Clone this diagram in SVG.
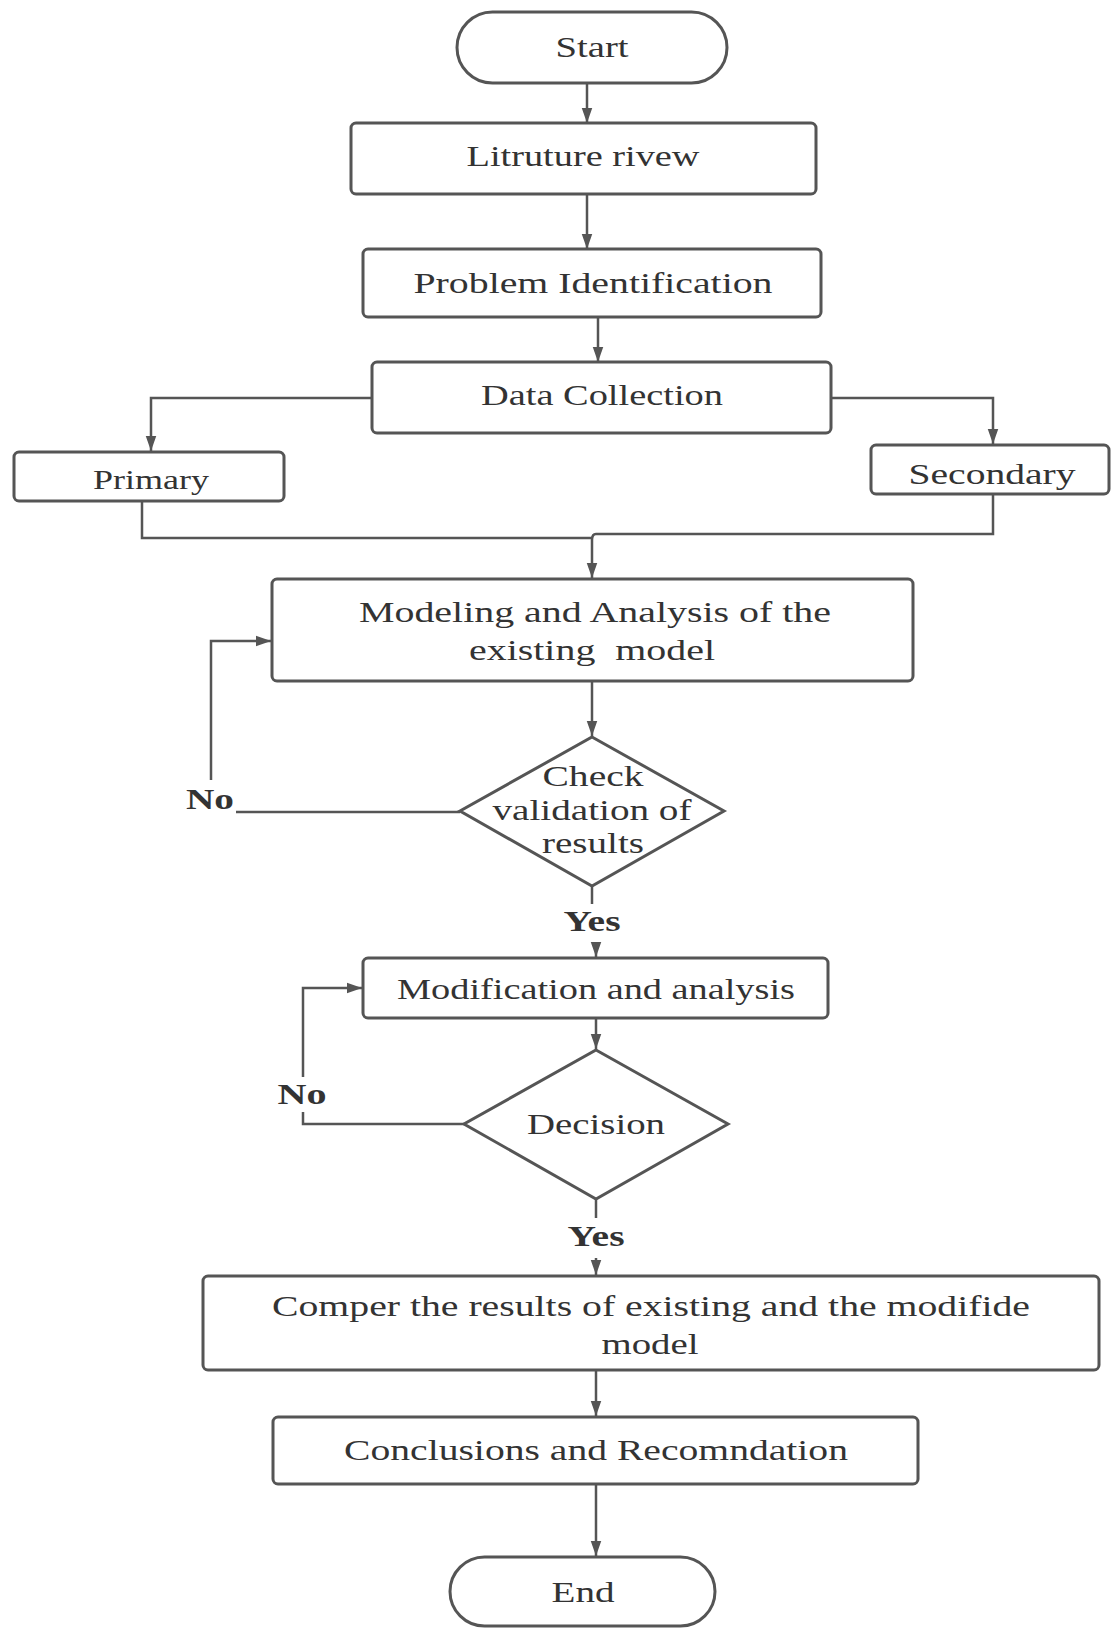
<svg xmlns="http://www.w3.org/2000/svg" width="1111" height="1629" viewBox="0 0 1111 1629">
<defs>
<style>
.n{fill:#fff;stroke:#555;stroke-width:3}
.t{font-family:"Liberation Serif","Times New Roman",serif;font-size:30px;fill:#333;text-anchor:middle;dominant-baseline:central}
.b{font-weight:bold}
.c{fill:none;stroke:#555;stroke-width:2.5}
</style>
<marker id="ah" viewBox="0 0 10 10" refX="10" refY="5" markerWidth="6" markerHeight="6" markerUnits="strokeWidth" orient="auto"><path d="M0,1.5 L10,5 L0,8.5 Z" fill="#555"/></marker>
</defs>
<rect width="1111" height="1629" fill="#fff"/>
<g id="connectors">
<path class="c" d="M587,83 V123" marker-end="url(#ah)"/>
<path class="c" d="M587,194 V249" marker-end="url(#ah)"/>
<path class="c" d="M598,317 V362" marker-end="url(#ah)"/>
<path class="c" d="M372,398 H151 V451" marker-end="url(#ah)"/>
<path class="c" d="M831,398 H993 V444" marker-end="url(#ah)"/>
<path class="c" d="M142,501 V538 H592"/>
<path class="c" d="M993,494 V534 H596 Q592,534 592,540 V578" marker-end="url(#ah)"/>
<path class="c" d="M592,681 V736" marker-end="url(#ah)"/>
<path class="c" d="M460,812 H236"/>
<path class="c" d="M211,780 V641 H271" marker-end="url(#ah)"/>
<path class="c" d="M592,886 V904"/>
<path class="c" d="M596,942 V957" marker-end="url(#ah)"/>
<path class="c" d="M596,1018 V1049" marker-end="url(#ah)"/>
<path class="c" d="M464,1124 H303 V1112"/>
<path class="c" d="M303,1077 V988 H362" marker-end="url(#ah)"/>
<path class="c" d="M596,1199 V1218"/>
<path class="c" d="M596,1258 V1275" marker-end="url(#ah)"/>
<path class="c" d="M596,1370 V1416" marker-end="url(#ah)"/>
<path class="c" d="M596,1484 V1556" marker-end="url(#ah)"/>
<text class="t b" x="210" y="798" textLength="48" lengthAdjust="spacingAndGlyphs">No</text>
<text class="t b" x="592" y="920" textLength="57" lengthAdjust="spacingAndGlyphs">Yes</text>
<text class="t b" x="302" y="1093" textLength="49" lengthAdjust="spacingAndGlyphs">No</text>
<text class="t b" x="596" y="1235" textLength="57" lengthAdjust="spacingAndGlyphs">Yes</text>
</g>
<g id="start">
<rect class="n" x="457" y="12" width="270" height="71" rx="35.5"/>
<text class="t" x="592" y="46" textLength="73" lengthAdjust="spacingAndGlyphs">Start</text>
</g>
<g id="literature">
<rect class="n" x="351" y="123" width="465" height="71" rx="5"/>
<text class="t" x="583" y="155" textLength="233" lengthAdjust="spacingAndGlyphs">Litruture rivew</text>
</g>
<g id="problem">
<rect class="n" x="363" y="249" width="458" height="68" rx="5"/>
<text class="t" x="593" y="282" textLength="359" lengthAdjust="spacingAndGlyphs">Problem Identification</text>
</g>
<g id="data">
<rect class="n" x="372" y="362" width="459" height="71" rx="5"/>
<text class="t" x="602" y="394" textLength="242" lengthAdjust="spacingAndGlyphs">Data Collection</text>
</g>
<g id="primary">
<rect class="n" x="14" y="452" width="270" height="49" rx="5"/>
<text class="t" x="151" y="480" textLength="116" lengthAdjust="spacingAndGlyphs" style="font-size:27px">Primary</text>
</g>
<g id="secondary">
<rect class="n" x="871" y="445" width="238" height="49" rx="5"/>
<text class="t" x="992" y="473" textLength="167" lengthAdjust="spacingAndGlyphs">Secondary</text>
</g>
<g id="modeling">
<rect class="n" x="272" y="579" width="641" height="102" rx="5"/>
<text class="t" x="595" y="611" textLength="472" lengthAdjust="spacingAndGlyphs">Modeling and Analysis of the</text>
<text class="t" x="592" y="649" textLength="246" lengthAdjust="spacingAndGlyphs" xml:space="preserve">existing  model</text>
</g>
<g id="check">
<polygon class="n" points="592,737 724,811 592,886 460,811"/>
<text class="t" x="593" y="775" textLength="101" lengthAdjust="spacingAndGlyphs">Check</text>
<text class="t" x="592" y="809" textLength="199" lengthAdjust="spacingAndGlyphs">validation of</text>
<text class="t" x="593" y="842" textLength="102" lengthAdjust="spacingAndGlyphs">results</text>
</g>
<g id="modification">
<rect class="n" x="363" y="958" width="465" height="60" rx="5"/>
<text class="t" x="596" y="988" textLength="398" lengthAdjust="spacingAndGlyphs">Modification and analysis</text>
</g>
<g id="decision">
<polygon class="n" points="596,1050 728,1124 596,1199 464,1124"/>
<text class="t" x="596" y="1123" textLength="138" lengthAdjust="spacingAndGlyphs">Decision</text>
</g>
<g id="compare">
<rect class="n" x="203" y="1276" width="896" height="94" rx="5"/>
<text class="t" x="651" y="1305" textLength="758" lengthAdjust="spacingAndGlyphs">Comper the results of existing and the modifide</text>
<text class="t" x="650" y="1343" textLength="97" lengthAdjust="spacingAndGlyphs">model</text>
</g>
<g id="conclusions">
<rect class="n" x="273" y="1417" width="645" height="67" rx="5"/>
<text class="t" x="596" y="1449" textLength="504" lengthAdjust="spacingAndGlyphs">Conclusions and Recomndation</text>
</g>
<g id="end">
<rect class="n" x="450" y="1557" width="265" height="69" rx="34.5"/>
<text class="t" x="583" y="1591" textLength="63" lengthAdjust="spacingAndGlyphs">End</text>
</g>
</svg>
